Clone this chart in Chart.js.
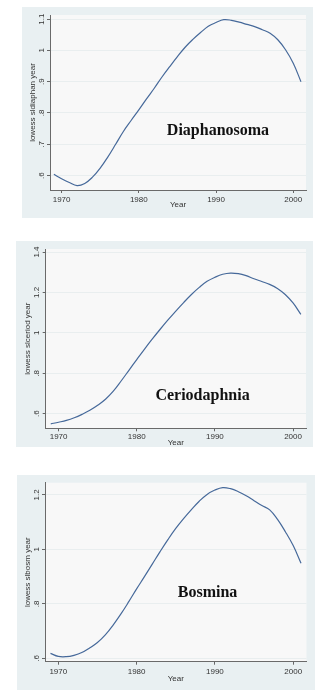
<!DOCTYPE html>
<html>
<head>
<meta charset="utf-8">
<script src="https://cdn.jsdelivr.net/npm/chart.js@4"></script>
<style>
    body { margin: 0; background: #fff; width: 326px; height: 697px; position: relative; overflow: hidden; }
    .box { position: absolute; background: #e9f0f2; }
    .wrap { position: absolute; }
</style>
</head>
<body>
<div class="box" style="left:22px;top:7px;width:291px;height:211px"></div>
<div class="box" style="left:16px;top:241px;width:297px;height:206px"></div>
<div class="box" style="left:17px;top:475px;width:298px;height:215px"></div>
<div class="wrap" style="left:22px;top:7px"><canvas id="chart1" width="291" height="215"></canvas></div>
<div class="wrap" style="left:16px;top:241px"><canvas id="chart2" width="297" height="215"></canvas></div>
<div class="wrap" style="left:17px;top:475px"><canvas id="chart3" width="298" height="215"></canvas></div>
<script>
// years of the lowess curves
const years = [1969, 1970, 1971, 1972, 1973, 1974, 1975, 1976, 1977, 1978, 1979,
    1980, 1981, 1982, 1983, 1984, 1985, 1986, 1987, 1988, 1989,
    1990, 1991, 1992, 1993, 1994, 1995, 1996, 1997, 1998, 1999,
    2000, 2001];

const diaphanosoma = [0.604, 0.590, 0.578, 0.568, 0.575, 0.595, 0.624, 0.660, 0.700, 0.741, 0.776,
    0.810, 0.845, 0.879, 0.915, 0.948, 0.980, 1.010, 1.035, 1.057, 1.077,
    1.089, 1.098, 1.096, 1.090, 1.083, 1.076, 1.066, 1.055, 1.034, 1.002,
    0.959, 0.900];

const ceriodaphnia = [0.550, 0.558, 0.567, 0.580, 0.597, 0.617, 0.642, 0.672, 0.712, 0.762, 0.815,
    0.868, 0.920, 0.970, 1.018, 1.064, 1.108, 1.150, 1.190, 1.225, 1.255,
    1.275, 1.290, 1.296, 1.293, 1.283, 1.268, 1.254, 1.240, 1.220, 1.190,
    1.148, 1.092];

const bosmina = [0.618, 0.607, 0.606, 0.611, 0.621, 0.638, 0.658, 0.686, 0.722, 0.763, 0.808,
    0.855, 0.900, 0.946, 0.992, 1.036, 1.077, 1.113, 1.146, 1.177, 1.202,
    1.218, 1.227, 1.223, 1.212, 1.197, 1.179, 1.161, 1.145, 1.110, 1.065,
    1.014, 0.949];

const xTicks = [1970, 1980, 1990, 2000];
const xTickLabels = ['1970', '1980', '1990', '2000'];

const diaphYTicks = [0.6, 0.7, 0.8, 0.9, 1.0, 1.1];
const diaphYLabels = ['.6', '.7', '.8', '.9', '1', '1.1'];
const cerioYTicks = [0.6, 0.8, 1.0, 1.2, 1.4];
const cerioYLabels = ['.6', '.8', '1', '1.2', '1.4'];
const bosmYTicks = [0.6, 0.8, 1.0, 1.2];
const bosmYLabels = ['.6', '.8', '1', '1.2'];

const panels = [
    {
        canvas: 'chart1', values: diaphanosoma, name: 'Diaphanosoma',
        yTitle: 'lowess sldiaphan year', yTicks: diaphYTicks, yLabels: diaphYLabels,
        xMin: 1968.5, xMax: 2001.65, yMin: 0.554, yMax: 1.113,
        labelAt: [1990.25, 0.729], yWidth: 28, xHeight: 32,
        pad: { top: 8, right: 7 }, xTickPad: 2, xTitlePad: 12, yTitlePad: 6
    },
    {
        canvas: 'chart2', values: ceriodaphnia, name: 'Ceriodaphnia',
        yTitle: 'lowess slceriod year', yTicks: cerioYTicks, yLabels: cerioYLabels,
        xMin: 1968.35, xMax: 2001.66, yMin: 0.528, yMax: 1.415,
        labelAt: [1988.42, 0.669], yWidth: 29.7, xHeight: 27.7,
        pad: { top: 8, right: 7 }, xTickPad: 1, xTitlePad: 8, yTitlePad: 7
    },
    {
        canvas: 'chart3', values: bosmina, name: 'Bosmina',
        yTitle: 'lowess slbosm year', yTicks: bosmYTicks, yLabels: bosmYLabels,
        xMin: 1968.3, xMax: 2001.7, yMin: 0.5875, yMax: 1.245,
        labelAt: [1989.06, 0.824], yWidth: 28, xHeight: 28.3,
        pad: { top: 7.7, right: 8.5 }, xTickPad: 2.2, xTitlePad: 6.4, yTitlePad: 6.2
    }
];

const plotBackground = {
    id: 'plotBackground',
    beforeDraw(chart) {
        const { ctx, chartArea } = chart;
        ctx.save();
        ctx.fillStyle = '#f8f8f8';
        ctx.fillRect(chartArea.left, chartArea.top, chartArea.right - chartArea.left, chartArea.bottom - chartArea.top);
        ctx.restore();
    }
};

const speciesLabel = {
    id: 'speciesLabel',
    afterDatasetsDraw(chart, args, opts) {
        const { ctx, scales } = chart;
        ctx.save();
        ctx.font = 'bold 16px "Liberation Serif", "Times New Roman", serif';
        ctx.fillStyle = '#111';
        ctx.textAlign = 'center';
        ctx.textBaseline = 'alphabetic';
        ctx.fillText(opts.text, scales.x.getPixelForValue(opts.at[0]), scales.y.getPixelForValue(opts.at[1]));
        ctx.restore();
    }
};

function drawPanel(p) {
    const ctx = document.getElementById(p.canvas).getContext('2d');
    const points = years.map((yr, i) => ({ x: yr, y: p.values[i] }));
    const font = { family: '"Liberation Sans", Arial, sans-serif', size: 8 };

    new Chart(ctx, {
        type: 'line',
        data: {
            datasets: [{
                data: points,
                borderColor: '#46699a',
                borderWidth: 1.2,
                pointRadius: 0,
                tension: 0.4,
                fill: false
            }]
        },
        options: {
            responsive: false,
            animation: false,
            layout: { padding: { top: p.pad.top, right: p.pad.right, bottom: 0, left: 0 } },
            plugins: {
                legend: { display: false },
                tooltip: { enabled: false },
                speciesLabel: { text: p.name, at: p.labelAt }
            },
            scales: {
                x: {
                    type: 'linear',
                    min: p.xMin,
                    max: p.xMax,
                    afterBuildTicks: scale => { scale.ticks = xTicks.map(v => ({ value: v })); },
                    afterFit: scale => { scale.height = p.xHeight; },
                    grid: { drawOnChartArea: false, drawTicks: true, tickLength: 3, tickColor: '#666' },
                    border: { display: true, color: '#6a6a6a', width: 1 },
                    ticks: {
                        autoSkip: false,
                        maxRotation: 0,
                        padding: p.xTickPad,
                        color: '#333',
                        font: font,
                        callback: value => xTickLabels[xTicks.indexOf(value)]
                    },
                    title: {
                        display: true,
                        text: 'Year',
                        color: '#333',
                        font: font,
                        padding: { top: 0, bottom: p.xTitlePad }
                    }
                },
                y: {
                    type: 'linear',
                    min: p.yMin,
                    max: p.yMax,
                    afterBuildTicks: scale => { scale.ticks = p.yTicks.map(v => ({ value: v })); },
                    afterFit: scale => { scale.width = p.yWidth; },
                    grid: {
                        drawOnChartArea: true,
                        drawTicks: true,
                        tickLength: 3,
                        color: '#e9eeef',
                        tickColor: '#666'
                    },
                    border: { display: true, color: '#6a6a6a', width: 1 },
                    ticks: {
                        autoSkip: false,
                        minRotation: 90,
                        maxRotation: 90,
                        crossAlign: 'center',
                        padding: 0,
                        color: '#333',
                        font: font,
                        callback: value => p.yLabels[p.yTicks.findIndex(t => Math.abs(t - value) < 1e-6)]
                    },
                    title: {
                        display: true,
                        text: p.yTitle,
                        color: '#333',
                        font: font,
                        padding: { top: p.yTitlePad, bottom: 0 }
                    }
                }
            }
        },
        plugins: [plotBackground, speciesLabel]
    });
}

document.addEventListener('DOMContentLoaded', function() {
    panels.forEach(drawPanel);
});
</script>
</body>
</html>
